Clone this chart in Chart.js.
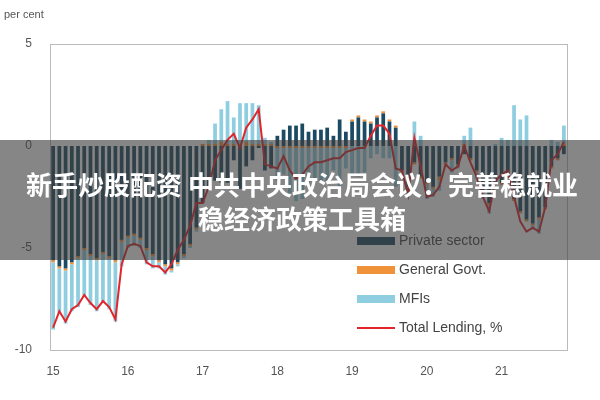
<!DOCTYPE html>
<html>
<head>
<meta charset="utf-8">
<script src="https://cdn.jsdelivr.net/npm/chart.js@4/dist/chart.umd.min.js"></script>
<style>
  body { margin: 0; background: #fff; }
  #wrap { width: 600px; height: 400px; }
</style>
</head>
<body>
<div id="wrap"><canvas id="myChart" width="600" height="400"></canvas></div>
<script>
// 月次データ 2015-01 .. 2021-11
var years = ['15', '16', '17', '18', '19', '20', '21'];

var privateSector = [
  -5.6,-5.9,-6.0,-5.7,-5.4,-5.0,-5.3,-5.5,-5.2,-5.4,-5.6,-4.6,
  -4.4,-4.3,-4.5,-5.0,-5.3,-5.6,-5.8,-6.0,-5.7,-5.3,-4.8,-4.0,
  -2.8,-2.2,-1.7,-1.8,-1.8,-0.7,-2.1,-1.0,-0.7,-0.1,-1.2,-1.1,
  0.5,0.8,1.0,1.0,1.1,0.7,0.8,0.8,0.9,0.5,1.3,0.7,
  1.2,1.4,1.2,1.1,1.4,1.6,1.2,0.9,-1.2,-2.0,-0.8,-1.5,
  -1.8,-2.0,-1.5,-0.8,-0.6,-0.9,-0.4,-0.6,-1.2,-2.2,-2.8,-1.8,
  -1.8,-1.5,-2.6,-3.2,-3.6,-3.8,-3.5,-3.0,-1.0,-0.6,-0.4
];
var generalGovt = [
  -0.1,-0.1,-0.1,-0.1,-0.1,-0.1,-0.1,-0.1,-0.1,-0.1,-0.1,-0.1,
  -0.1,-0.1,-0.1,-0.1,-0.1,-0.1,-0.1,-0.1,-0.1,-0.1,-0.1,-0.1,
  0.1,0.1,0.1,0.2,0.1,0.1,0.1,0.2,0.1,0.1,0.1,0.1,
  -0.1,-0.1,-0.1,-0.1,-0.1,-0.1,-0.1,-0.1,-0.1,-0.1,-0.1,-0.1,
  0.1,0.1,0.1,0.1,0.1,0.1,0.1,0.1,-0.1,-0.1,-0.1,-0.1,
  -0.1,-0.1,-0.2,-0.1,-0.1,-0.1,0.1,-0.1,-0.1,-0.1,-0.1,-0.1,
  -0.1,-0.1,-0.1,-0.1,-0.1,-0.1,-0.1,-0.1,-0.1,-0.1,0.1
];
var mfis = [
  -3.3,-2.2,-2.6,-2.3,-2.4,-2.3,-2.4,-2.5,-2.4,-2.5,-2.9,-1.2,
  -0.5,-0.5,-0.4,-0.7,-0.6,-0.3,-0.4,-0.1,-0.1,-0.1,-0.1,-0.1,
  0.0,0.2,1.0,1.6,2.1,1.3,2.0,1.9,2.0,1.9,0.3,0.1,
  -1.6,-1.3,-2.2,-2.6,-2.5,-1.7,-1.6,-1.6,-1.6,-1.1,-1.9,-1.0,
  -1.4,-1.5,-1.3,-0.6,-0.4,-0.6,-0.6,-2.0,0.0,-0.4,1.2,0.5,
  -0.7,-0.4,-0.5,-0.1,-0.6,-0.1,0.4,0.9,-0.3,-0.3,-0.4,0.1,
  0.4,0.3,2.0,1.3,1.5,-0.2,-0.7,0.0,0.3,0.2,0.9
];
var totalLending = [
  -8.9,-8.1,-8.6,-8.0,-7.8,-7.3,-7.7,-8.0,-7.6,-7.9,-8.5,-5.8,
  -4.9,-4.8,-4.9,-5.7,-5.9,-5.9,-6.2,-5.8,-5.1,-4.6,-3.9,-2.8,
  -2.8,-2.0,-0.7,-0.2,0.3,0.6,-0.1,0.9,1.3,1.8,-0.9,-1.0,
  -1.1,-0.5,-1.2,-1.6,-1.4,-1.0,-0.8,-0.8,-0.7,-0.6,-0.6,-0.3,
  -0.2,-0.1,-0.1,0.5,1.0,1.0,0.6,-1.1,-1.2,-2.4,0.4,-1.0,
  -2.5,-2.4,-2.0,-0.9,-1.2,-1.0,0.0,-0.8,-1.5,-2.5,-3.2,-1.7,
  -1.4,-1.2,-2.5,-3.7,-4.2,-4.0,-4.2,-3.0,-0.7,-0.4,0.2
];
var banner = ['新手炒股配资 中共中央政治局会议：完善稳就业', '稳经济政策工具箱'];

var labels = privateSector.map(function(v, i){ return i % 12 === 0 ? years[i / 12] : ''; });

// 凡例・注記・帯の描画
var overlay = {
  id: 'overlay',
  afterDraw: function(chart){
    var c = chart.ctx;
    var a = chart.chartArea;
    c.save();
    c.strokeStyle = '#bbb';
    c.lineWidth = 1;
    c.strokeRect(a.left + 0.5, a.top + 0.5, a.right - a.left, a.bottom - a.top);
    c.fillStyle = '#555';
    c.font = '11px "Liberation Sans", Arial';
    c.textBaseline = 'middle';
    c.fillText('per cent', 4, 15);
    var items = [
      ['#1d4a63', 'Private sector', 'bar'],
      ['#f0923a', 'General Govt.', 'bar'],
      ['#8fcde1', 'MFIs', 'bar'],
      ['#e0262b', 'Total Lending, %', 'line']
    ];
    c.font = '14px "Liberation Sans", Arial';
    items.forEach(function(it, k){
      var y = 241 + k * 29;
      c.fillStyle = it[0];
      if (it[2] === 'bar') c.fillRect(357, y - 4, 38, 8);
      else c.fillRect(357, y - 1, 38, 2);
      c.fillStyle = '#444';
      c.fillText(it[1], 399, y);
    });
    c.fillStyle = 'rgba(60,60,60,0.62)';
    c.fillRect(0, 140, 600, 120);
    c.fillStyle = '#fff';
    c.font = 'bold 26px "Noto Sans CJK SC"';
    c.textAlign = 'center';
    c.fillText(banner[0], 302, 185);
    c.fillText(banner[1], 302, 219);
    c.restore();
  }
};

var ctx = document.getElementById('myChart').getContext('2d');
var myChart = new Chart(ctx, {
  type: 'bar',
  data: {
    labels: labels,
    datasets: [
      { type: 'line', label: 'Total Lending, %', data: totalLending, borderColor: '#e0262b',
        borderWidth: 2, pointRadius: 0, tension: 0, order: 0 },
      { label: 'Private sector', data: privateSector, backgroundColor: '#1d4a63', order: 1 },
      { label: 'General Govt.', data: generalGovt, backgroundColor: '#f0923a', order: 1 },
      { label: 'MFIs', data: mfis, backgroundColor: '#8fcde1', order: 1 }
    ]
  },
  plugins: [overlay],
  options: {
    responsive: false,
    animation: false,
    layout: { padding: { top: 44, right: 33, left: 0, bottom: 0 } },
    datasets: { bar: { barPercentage: 0.6, categoryPercentage: 1 } },
    plugins: { legend: { display: false }, tooltip: { enabled: false } },
    scales: {
      x: {
        stacked: true,
        grid: { display: false },
        border: { color: '#bbb' },
        ticks: { autoSkip: false, maxRotation: 0, color: '#555', font: { size: 12, family: 'Liberation Sans' }, padding: 6 },
        afterFit: function(s){ s.height = 50; }
      },
      y: {
        stacked: true,
        min: -10, max: 5,
        grid: { display: false },
        border: { color: '#bbb' },
        ticks: { stepSize: 5, color: '#555', font: { size: 12, family: 'Liberation Sans' }, padding: 10 },
        afterFit: function(s){ s.width = 50; }
      }
    }
  }
});
</script>
</body>
</html>
